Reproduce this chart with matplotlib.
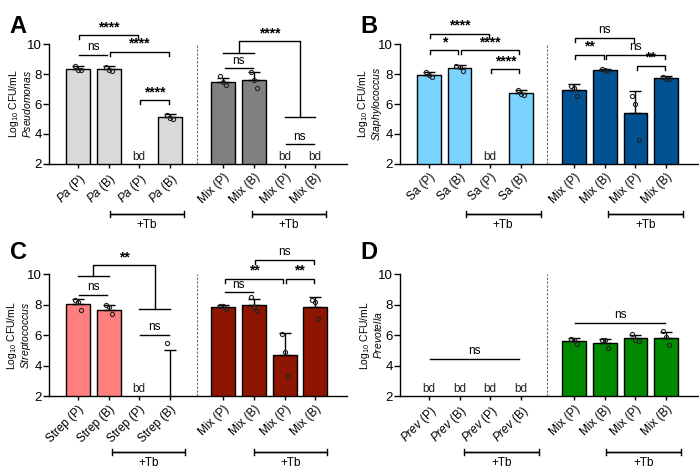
import numpy as np
import matplotlib.pyplot as plt
from matplotlib.transforms import blended_transform_factory

plt.rcParams['font.family'] = ['Liberation Sans', 'DejaVu Sans']
plt.rcParams['mathtext.fontset'] = 'custom'
plt.rcParams['mathtext.rm'] = 'Liberation Sans'
plt.rcParams['mathtext.it'] = 'Liberation Sans:italic'
plt.rcParams['axes.linewidth'] = 1.0

nan = np.nan

# bar positions: 4 single-species + 4 mixed
pos = [0, 1, 2, 3, 4.75, 5.75, 6.75, 7.75]

# ---- Panel A : Pseudomonas
a_labels = [r"$\it{Pa}$ (P)", r"$\it{Pa}$ (B)", r"$\it{Pa}$ (P)", r"$\it{Pa}$ (B)",
            "Mix (P)", "Mix (B)", "Mix (P)", "Mix (B)"]
a_means = [8.31, 8.31, nan, 5.11, 7.49, 7.58, nan, nan]
a_sd = [0.2, 0.2, nan, 0.2, 0.27, 0.53, nan, nan]
a_points = [[8.55, 8.27, 8.25], [8.45, 8.28, 8.22], [], [5.27, 5.04, 5.0],
            [7.85, 7.49, 7.3], [8.16, 7.58, 7.04], [], []]

# ---- Panel B : Staphylococcus
b_labels = ["Sa (P)", "Sa (B)", "Sa (P)", "Sa (B)",
            "Mix (P)", "Mix (B)", "Mix (P)", "Mix (B)"]
b_means = [7.93, 8.4, nan, 6.73, 6.95, 8.27, 5.4, 7.72]
b_sd = [0.2, 0.2, nan, 0.22, 0.37, 0.08, 1.5, 0.12]
b_points = [[8.11, 7.96, 7.78], [8.51, 8.47, 8.22], [], [6.91, 6.67, 6.62],
            [7.22, 7.07, 6.51], [8.36, 8.27, 8.22], [6.51, 6.0, 3.62], [7.82, 7.65, 7.66]]

# ---- Panel C : Streptococcus
c_labels = ["Strep (P)", "Strep (B)", "Strep (P)", "Strep (B)",
            "Mix (P)", "Mix (B)", "Mix (P)", "Mix (B)"]
c_means = [8.07, 7.68, nan, 1.83, 7.85, 7.95, 4.72, 7.85]
c_sd = [0.31, 0.32, nan, 3.18, 0.11, 0.45, 1.44, 0.66]
c_points = [[8.3, 8.2, 7.68], [7.95, 7.85, 7.37], [], [5.5, 0, 0],
            [7.93, 7.9, 7.7], [8.5, 7.85, 7.6], [6.05, 4.89, 3.3], [8.33, 8.18, 7.04]]

# ---- Panel D : Prevotella
d_labels = [r"$\it{Prev}$ (P)", r"$\it{Prev}$ (B)", r"$\it{Prev}$ (P)", r"$\it{Prev}$ (B)",
            "Mix (P)", "Mix (B)", "Mix (P)", "Mix (B)"]
d_means = [nan, nan, nan, nan, 5.63, 5.51, 5.78, 5.8]
d_sd = [nan, nan, nan, nan, 0.16, 0.25, 0.25, 0.38]
d_points = [[], [], [], [], [5.75, 5.7, 5.42], [5.7, 5.66, 5.17], [6.05, 5.7, 5.6], [6.27, 5.85, 5.35]]

# significance brackets: (x1, x2, y, text, end ticks)
a_sig = [(0, 2, 10.6, "****", True), (0, 1, 9.27, "ns", False), (1, 3, 9.49, "****", True),
         (2, 3, 6.27, "****", True), (4.75, 5.75, 8.38, "ns", False), (6.75, 7.75, 3.31, "ns", False)]
b_sig = [(0, 2, 10.69, "****", True), (0, 1, 9.58, "*", True), (1, 3, 9.58, "****", True),
         (2, 3, 8.33, "****", True), (4.75, 6.75, 10.4, "ns", True), (4.75, 5.75, 9.29, "**", True),
         (5.75, 7.75, 9.29, "ns", True), (6.75, 7.75, 8.56, "**", True)]
c_sig = [(0, 1, 8.66, "ns", False), (2, 3, 6.03, "ns", False), (5.75, 7.75, 10.96, "ns", True),
         (4.75, 6.75, 9.71, "**", True), (6.75, 7.75, 9.71, "**", True), (4.75, 5.75, 8.8, "ns", False)]
d_sig = [(0, 3, 4.45, "ns", False), (4.75, 7.75, 6.82, "ns", False)]

# group comparisons: (left pair, left y, right pair, right y, top y, text)
a_group = [((4.75, 5.75), 9.42, (6.75, 7.75), 5.16, 10.2, "****")]
c_group = [((0, 1), 9.87, (2, 3), 7.74, 10.59, "**")]

FS = 7.5


def sig_text(ax, x, y, s):
    if "*" in s:
        ax.text(x, y + 0.05, s, ha="center", va="bottom", fontsize=FS + 2.5, fontweight="bold",
                clip_on=False)
    else:
        ax.text(x, y + 0.12, s, ha="center", va="bottom", fontsize=FS + 1, clip_on=False)


def draw_panel(ax, labels, means, sd, points, light, dark, ylab, sig, group, tb, letter):
    colors = [light] * 4 + [dark] * 4
    ax.bar(pos, means, width=0.78, color=colors, edgecolor="black", linewidth=1.0, zorder=2)
    ax.errorbar(pos, means, yerr=[np.zeros(len(sd)), sd], fmt="none", ecolor="black",
                elinewidth=1.0, capsize=4.5, capthick=1.0, zorder=3)
    offs = [-0.1, 0.0, 0.1]
    for p, pts in zip(pos, points):
        for k, v in enumerate(pts):
            ax.plot(p + offs[k], v, "o", ms=3, mfc="none", mec="#222222", mew=0.8, zorder=4)
    for p, m in zip(pos, means):
        if np.isnan(m):
            ax.text(p, 2.05, "bd", ha="center", va="bottom", fontsize=FS + 1, color="#222222")

    ax.axvline(3.875, color="#666666", lw=0.8, ls=(0, (2, 1.5)), zorder=1)

    for x1, x2, y, s, ticks in sig:
        x1b, x2b = x1 + 0.04, x2 - 0.04
        if ticks:
            ax.plot([x1b, x1b, x2b, x2b], [y - 0.27, y, y, y - 0.27], color="black", lw=1.0,
                    clip_on=False)
        else:
            ax.plot([x1b, x2b], [y, y], color="black", lw=1.0, clip_on=False)
        sig_text(ax, (x1 + x2) / 2, y, s)

    for lp, ly, rp, ry, ty, s in group:
        lc = (lp[0] + lp[1]) / 2
        rc = (rp[0] + rp[1]) / 2
        ax.plot(lp, [ly, ly], color="black", lw=1.0, clip_on=False)
        ax.plot(rp, [ry, ry], color="black", lw=1.0, clip_on=False)
        ax.plot([lc, lc, rc, rc], [ly, ty, ty, ry], color="black", lw=1.0, clip_on=False)
        sig_text(ax, (lc + rc) / 2, ty, s)

    ax.set_xlim(-0.95, 8.78)
    ax.set_ylim(2, 10)
    ax.set_yticks([2, 4, 6, 8, 10])
    ax.set_xticks(pos)
    ax.set_xticklabels(labels, rotation=45, ha="right", rotation_mode="anchor", fontsize=FS + 1)
    ax.tick_params(axis="y", labelsize=FS + 2, length=4, width=1, pad=1)
    ax.tick_params(axis="x", length=3, width=1, pad=2)
    for sp in ["top", "right"]:
        ax.spines[sp].set_visible(False)
    ax.set_ylabel("Log$_{10}$ CFU/mL\n" + ylab, fontsize=FS, linespacing=1.05)
    ax.yaxis.set_label_coords(-0.052, 0.5)

    tr = blended_transform_factory(ax.transData, ax.transAxes)
    for (t1, t2), yb in tb:
        ax.plot([t1, t1, t2, t2], [yb + 0.025, yb, yb, yb + 0.025], color="black", lw=1.0,
                transform=tr, clip_on=False)
        ax.plot([t1, t1, t2, t2], [yb - 0.025, yb, yb, yb - 0.025], color="black", lw=1.0,
                transform=tr, clip_on=False)
        ax.text((t1 + t2) / 2, yb - 0.045, "+Tb", transform=tr, ha="center", va="top",
                fontsize=FS + 1)

    bb = ax.get_position()
    ax.figure.text(bb.x0 - 0.056, 0.968 if bb.y0 > 0.5 else 0.494, letter, fontsize=17,
                   fontweight="bold", va="top", ha="left")


fig = plt.figure(figsize=(6.99, 4.76), dpi=100)
axA = fig.add_axes([0.070, 0.6555, 0.426, 0.252])
axB = fig.add_axes([0.572, 0.6555, 0.426, 0.252])
axC = fig.add_axes([0.070, 0.168, 0.426, 0.256])
axD = fig.add_axes([0.572, 0.168, 0.426, 0.256])

draw_panel(axA, a_labels, a_means, a_sd, a_points, "#D9D9D9", "#808080",
           r"$\it{Pseudomonas}$", a_sig, a_group,
           [((1.05, 3.45), -0.417), ((5.7, 8.1), -0.417)], "A")
draw_panel(axB, b_labels, b_means, b_sd, b_points, "#7AD4FF", "#005293",
           r"$\it{Staphylococcus}$", b_sig, [],
           [((1.2, 3.65), -0.417), ((5.85, 8.3), -0.417)], "B")
draw_panel(axC, c_labels, c_means, c_sd, c_points, "#FF7F7F", "#8E1600",
           r"$\it{Streptococcus}$", c_sig, c_group,
           [((1.1, 3.5), -0.457), ((5.75, 8.15), -0.457)], "C")
draw_panel(axD, d_labels, d_means, d_sd, d_points, "#FF7F7F", "#008A00",
           r"$\it{Prevotella}$", d_sig, [],
           [((1.15, 3.6), -0.457), ((5.8, 8.25), -0.457)], "D")

fig.savefig("out.png", dpi=100)
